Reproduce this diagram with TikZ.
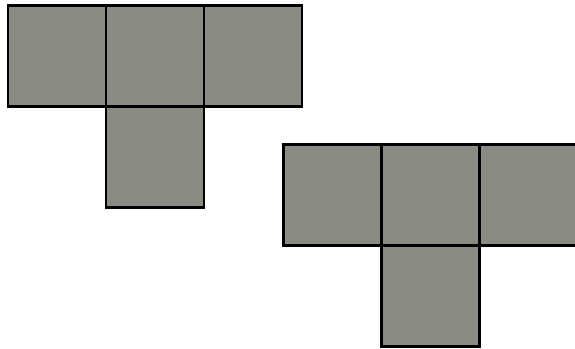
\documentclass[tikz,border=0pt]{standalone}
\usepackage{tikz}
\usetikzlibrary{positioning}

\definecolor{cardgray}{RGB}{138,139,131}

\tikzset{
	cell/.style={draw=black, fill=cardgray, line width=2.1pt,
		minimum width=2.94cm, minimum height=3.03cm, inner sep=0pt, outer sep=0pt}
}

\begin{document}
\begin{tikzpicture}[x=0.03cm,y=-0.03cm]
	\useasboundingbox (0,0) rectangle (575,349);
	\clip (0,0) rectangle (575,349);
	% LEFT: T shape
	\node[cell] (la) at (57,56) {};
	\node[cell, right=0pt of la] (lb) {};
	\node[cell, right=0pt of lb] (lc) {};
	\node[cell, below=0pt of lb] (ld) {};
	
	% RIGHT: T shape, cut at the edge
	\node[cell] (ra) at (332.5,195) {};
	\node[cell, right=0pt of ra] (rb) {};
	\node[cell, right=0pt of rb] (rc) {};
	\node[cell, below=0pt of rb] (rd) {};
\end{tikzpicture}
\end{document}
